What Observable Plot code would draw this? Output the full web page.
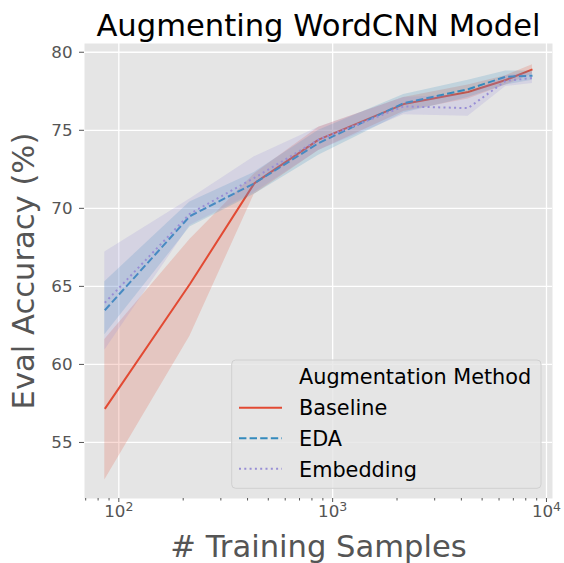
<!DOCTYPE html>
<html>
<head>
<meta charset="utf-8">
<script src="https://cdn.jsdelivr.net/npm/d3@7"></script>
<script src="https://cdn.jsdelivr.net/npm/@observablehq/plot@0.6"></script>
<style>
  html, body { margin: 0; padding: 0; background: #ffffff; }
  #chart svg { display: block; }
</style>
</head>
<body>
<div id="chart"></div>
<script>
// ---- data ----
const samples = [86, 215, 430, 860, 2150, 4300, 6450, 8600];

const baseline   = [57.15, 65.15, 71.6, 74.4, 76.68, 77.45, 78.22, 78.9];
const baselineLo = [52.6, 61.8, 70.9, 73.7, 76.2, 77.0, 77.9, 78.6];
const baselineHi = [61.6, 68.0, 72.2, 75.2, 77.1, 77.9, 78.5, 79.2];

const eda   = [63.47, 69.5, 71.6, 74.18, 76.74, 77.63, 78.43, 78.5];
const edaLo = [61.9, 68.8, 70.9, 73.4, 76.1, 77.1, 77.9, 78.2];
const edaHi = [65.3, 70.4, 72.3, 75.0, 77.3, 78.2, 78.8, 78.8];

const embedding   = [63.95, 69.65, 71.95, 74.4, 76.53, 76.42, 78.17, 78.35];
const embeddingLo = [60.9, 68.9, 71.0, 73.7, 76.0, 75.9, 77.8, 78.0];
const embeddingHi = [67.2, 70.6, 73.3, 75.2, 77.1, 77.3, 78.5, 78.7];

const methods = ["Baseline", "EDA", "Embedding"];
const colors = ["#E24A33", "#348ABD", "#988ED5"];
const dashes = [null, "7.4,3.2", "2,3.3"];

const yTicks = [55, 60, 65, 70, 75, 80];
const xMajor = [100, 1000, 10000];
const xMajorLabels = ["10²", "10³", "10⁴"];
const xExponents = ["2", "3", "4"];
const xMinor = [70, 80, 90, 200, 300, 400, 500, 600, 700, 800, 900,
                2000, 3000, 4000, 5000, 6000, 7000, 8000, 9000];

const titleText = "Augmenting WordCNN Model";
const xLabel = "# Training Samples";
const yLabel = "Eval Accuracy (%)";
const legendTitle = "Augmentation Method";

// ---- build table ----
const series = [
  [baseline, baselineLo, baselineHi],
  [eda, edaLo, edaHi],
  [embedding, embeddingLo, embeddingHi]
];
const tables = series.map(([v, lo, hi], k) =>
  samples.map((s, i) => ({method: methods[k], x: s, y: v[i], lo: lo[i], hi: hi[i]}))
);

const font = "DejaVu Sans";
const seriesMarks = [];
tables.forEach((t, k) => {
  seriesMarks.push(Plot.areaY(t, {x: "x", y1: "lo", y2: "hi", fill: colors[k], fillOpacity: 0.2}));
  seriesMarks.push(Plot.lineY(t, {x: "x", y: "y", stroke: colors[k], strokeWidth: 2,
    strokeDasharray: dashes[k] || undefined, strokeLinecap: "butt", strokeLinejoin: "round"}));
});

const chart = Plot.plot({
  width: 564,
  height: 563,
  marginLeft: 84,
  marginRight: 12,
  marginTop: 43,
  marginBottom: 65,
  style: {fontFamily: font, fontSize: "16.7px", background: "#ffffff", overflow: "visible"},
  x: {type: "log", domain: [69.1, 10670], label: null},
  y: {domain: [51.41, 80.56], label: null},
  marks: [
    Plot.frame({fill: "#E5E5E5", stroke: null}),
    Plot.gridX(xMajor, {stroke: "#ffffff", strokeOpacity: 1, strokeWidth: 1.3}),
    Plot.gridY(yTicks, {stroke: "#ffffff", strokeOpacity: 1, strokeWidth: 1.3}),
    ...seriesMarks,
    Plot.axisX(xMinor, {tickSize: 2.5, tickFormat: () => "", stroke: "#555555", label: null}),
    Plot.axisX(xMajor, {tickSize: 4, tickPadding: 3, fontSize: 16.7, fill: "#555555", stroke: "#555555",
      tickFormat: (d) => xMajorLabels[xMajor.indexOf(d)], label: null}),
    Plot.axisY(yTicks, {tickSize: 5, tickPadding: 7, fontSize: 16.7, fill: "#555555", stroke: "#555555",
      tickFormat: (d) => String(d), label: null}),
    Plot.text([titleText], {frameAnchor: "top", dy: -8, lineAnchor: "bottom", fontSize: 30.6, fill: "#000000"}),
    Plot.text([xLabel], {frameAnchor: "bottom", dy: 58, lineAnchor: "bottom", fontSize: 30.6, fill: "#555555"}),
    Plot.text([yLabel], {frameAnchor: "left", dx: -50.5, rotate: -90, textAnchor: "middle", lineAnchor: "bottom", fontSize: 30.6, fill: "#555555"})
  ]
});

document.getElementById("chart").appendChild(chart);

// x tick labels as "10" with a raised, smaller exponent (like mathtext)
d3.select(chart).selectAll("text")
  .filter(function () { return xMajorLabels.includes(this.textContent); })
  .each(function () {
    const k = xMajorLabels.indexOf(this.textContent);
    const t = d3.select(this);
    t.text("10");
    t.append("tspan").attr("font-size", "12.5px").attr("dy", "-0.5em").text(xExponents[k]);
  });

// ---- legend ----
const svg = d3.select(chart);
const lg = svg.append("g").attr("font-family", font).attr("text-anchor", "start");
lg.append("rect")
  .attr("x", 231.7).attr("y", 360).attr("width", 309.3).attr("height", 128.3)
  .attr("rx", 4).attr("ry", 4)
  .attr("fill", "#E5E5E5").attr("fill-opacity", 0.8)
  .attr("stroke", "#D0D0D0").attr("stroke-width", 1);
lg.append("text").attr("x", 299).attr("y", 384).attr("font-size", 20.8).attr("fill", "#000000").text(legendTitle);
const rowY = [407.7, 438.3, 468.7];
const textY = [415, 446, 476.7];
methods.forEach((m, k) => {
  lg.append("line").attr("x1", 239).attr("x2", 282).attr("y1", rowY[k]).attr("y2", rowY[k])
    .attr("stroke", colors[k]).attr("stroke-width", 2)
    .attr("stroke-dasharray", dashes[k]);
  lg.append("text").attr("x", 299).attr("y", textY[k]).attr("font-size", 20.8).attr("fill", "#000000").text(m);
});
</script>
</body>
</html>
